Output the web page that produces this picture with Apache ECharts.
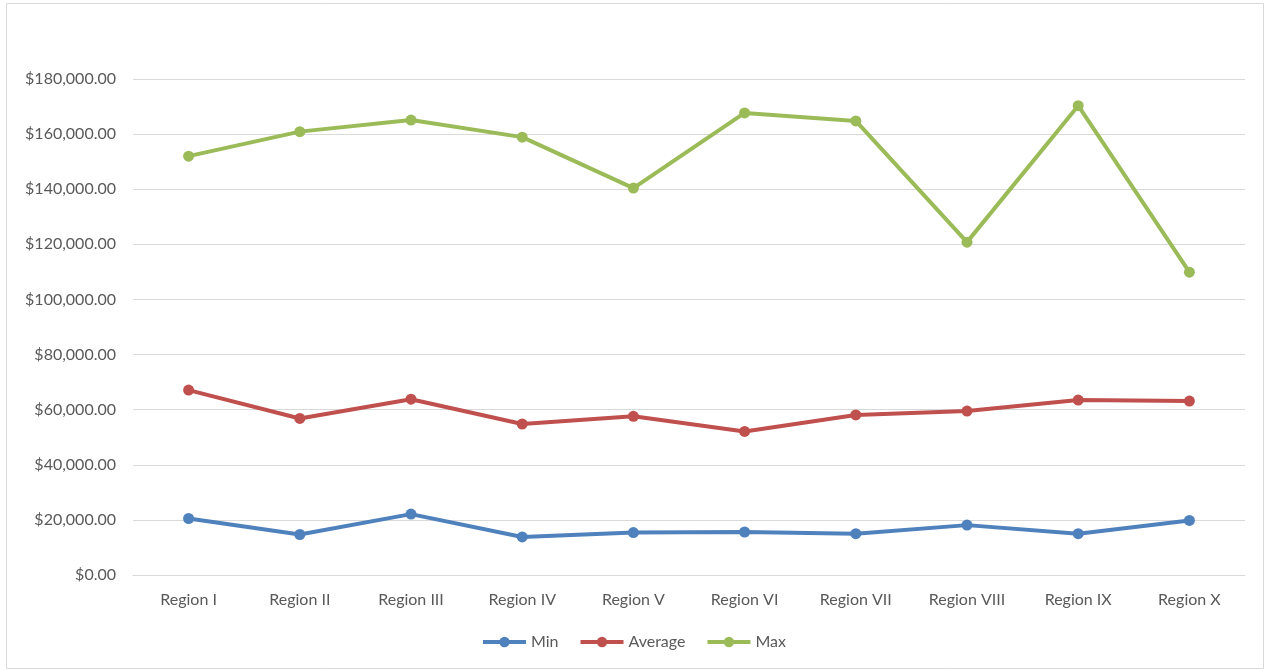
<!DOCTYPE html>
<html>
<head>
<meta charset="utf-8">
<script src="https://cdn.jsdelivr.net/npm/echarts@6/dist/echarts.min.js"></script>
<style>
  html, body { margin: 0; padding: 0; background: #ffffff; }
  #chart { width: 1267px; height: 671px; }
</style>
</head>
<body>
<div id="chart"></div>
<script>
// Salary range per region
const regions = ['Region I', 'Region II', 'Region III', 'Region IV', 'Region V',
                 'Region VI', 'Region VII', 'Region VIII', 'Region IX', 'Region X'];
const minValues = [20500, 14700, 22100, 13800, 15400, 15600, 15000, 18100, 15000, 19800];
const avgValues = [67100, 56800, 63800, 54800, 57600, 52100, 58100, 59500, 63500, 63100];
const maxValues = [152000, 160900, 165100, 158900, 140400, 167700, 164800, 120800, 170300, 109900];

const textColor = '#595959';
const gridColor = '#d9d9d9';
const fontFamily = 'Lato, "Liberation Sans", sans-serif';

function currency(v) {
  return '$' + v.toLocaleString('en-US', { minimumFractionDigits: 2, maximumFractionDigits: 2 });
}

function lineSeries(name, values, color) {
  return {
    name: name,
    type: 'line',
    data: values,
    symbol: 'circle',
    symbolSize: 11,
    lineStyle: { color: color, width: 4 },
    itemStyle: { color: color },
    emphasis: { disabled: true }
  };
}

const chart = echarts.init(document.getElementById('chart'), null, { renderer: 'canvas' });
chart.setOption({
  animation: false,
  backgroundColor: '#ffffff',
  textStyle: { fontFamily: fontFamily },
  graphic: [{
    type: 'rect',
    shape: { x: 6.5, y: 3.5, width: 1257, height: 665 },
    style: { fill: 'none', stroke: gridColor, lineWidth: 1 },
    silent: true
  }],
  grid: { left: 133, right: 22, top: 79, bottom: 96, containLabel: false },
  legend: {
    data: ['Min', 'Average', 'Max'],
    top: 629,
    left: 'center',
    itemWidth: 43,
    itemHeight: 13,
    itemGap: 20,
    itemStyle: { borderWidth: 0 },
    lineStyle: { width: 4 },
    textStyle: { color: textColor, fontSize: 16, fontFamily: fontFamily }
  },
  xAxis: {
    type: 'category',
    data: regions,
    boundaryGap: true,
    axisLine: { show: true, lineStyle: { color: gridColor, width: 1 } },
    axisTick: { show: false },
    axisLabel: { color: textColor, fontSize: 16, margin: 17, fontFamily: fontFamily, interval: 0 }
  },
  yAxis: {
    type: 'value',
    min: 0,
    max: 180000,
    interval: 20000,
    axisLine: { show: false },
    axisTick: { show: false },
    splitLine: { lineStyle: { color: gridColor, width: 1 } },
    axisLabel: { color: textColor, fontSize: 16, margin: 17, fontFamily: fontFamily, formatter: currency }
  },
  series: [
    lineSeries('Min', minValues, '#4f81bd'),
    lineSeries('Average', avgValues, '#c0504d'),
    lineSeries('Max', maxValues, '#9bbb59')
  ]
});
</script>
</body>
</html>
